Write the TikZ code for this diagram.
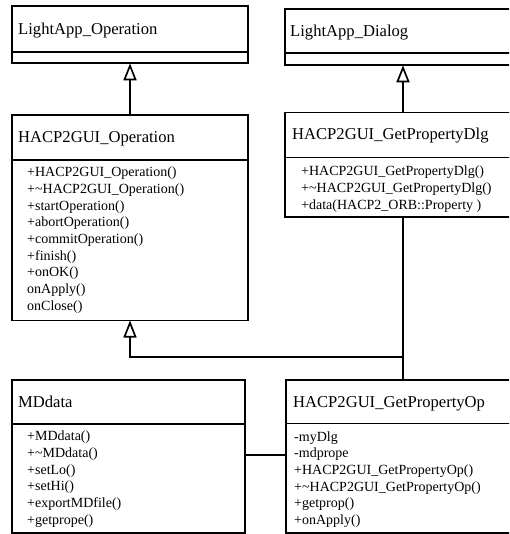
\documentclass[tikz,border=0pt]{standalone}
\usepackage{fontspec}
\setmainfont{Liberation Serif}
\usetikzlibrary{arrows.meta}
\begin{document}
\begin{tikzpicture}[x=1pt,y=-1pt,
  cls/.style={draw, rectangle, line width=1.7pt, anchor=north west, inner sep=0pt, outer sep=0pt},
  ttl/.style={anchor=base west, inner sep=0pt, font=\fontsize{16.6}{20}\selectfont},
  meth/.style={anchor=base west, inner sep=0pt, font=\fontsize{14}{16.7}\selectfont},
  rel/.style={line width=1.7pt},
  inh/.style={rel, -{Triangle[open, length=17pt, width=13pt]}}]
\clip (0,0) rectangle (509,534);

% ---------- class boxes ----------
\node[cls, minimum width=236pt, minimum height=57.3pt] (lo) at (12,6) {};
\draw[rel] (12,51.7) -- (248,51.7);
\node[ttl] (loT) at (18,34.5) {LightApp\_Operation};

\node[cls, minimum width=240pt, minimum height=56.3pt] (ld) at (285,9) {};
\draw[rel] (285,52.7) -- (525,52.7);
\node[ttl] (ldT) at (290,36.5) {LightApp\_Dialog};

\node[cls, minimum width=236pt, minimum height=205.5pt] (op) at (12,115) {};
\draw[rel] (12,160) -- (248,160);
\node[ttl] (opT) at (18,142.5) {HACP2GUI\_Operation};
\foreach \t [count=\i] in {+HACP2GUI\_Operation(),
    +\textasciitilde HACP2GUI\_Operation(),
    +startOperation(), +abortOperation(), +commitOperation(),
    +finish(), +onOK(), onApply(), onClose()}
  \node[meth] (opM\i) at (27,176.7+16.7*\i-16.7) {\t};

\node[cls, minimum width=240pt, minimum height=104.8pt] (dlg) at (285,112.5) {};
\draw[rel] (285,157.5) -- (525,157.5);
\node[ttl] (dlgT) at (292,140) {HACP2GUI\_GetPropertyDlg};
\foreach \t [count=\i] in {+HACP2GUI\_GetPropertyDlg(),
    +\textasciitilde HACP2GUI\_GetPropertyDlg(),
    +data(HACP2\_ORB::Property )}
  \node[meth] (dlgM\i) at (301,175.7+16.7*\i-16.7) {\t};

\node[cls, minimum width=233pt, minimum height=153.3pt] (md) at (12,380) {};
\draw[rel] (12,424) -- (245,424);
\node[ttl] (mdT) at (18,407.5) {MDdata};
\foreach \t [count=\i] in {+MDdata(), +\textasciitilde MDdata(),
    +setLo(), +setHi(), +exportMDfile(), +getprope()}
  \node[meth] (mdM\i) at (27,440.7+16.7*\i-16.7) {\t};

\node[cls, minimum width=240pt, minimum height=153.3pt] (gp) at (286,380) {};
\draw[rel] (286,423.5) -- (526,423.5);
\node[ttl] (gpT) at (293,407.5) {HACP2GUI\_GetPropertyOp};
\foreach \t [count=\i] in {-myDlg, -mdprope,
    +HACP2GUI\_GetPropertyOp(), +\textasciitilde HACP2GUI\_GetPropertyOp(),
    +getprop(), +onApply()}
  \node[meth] (gpM\i) at (294,441+16.7*\i-16.7) {\t};

% ---------- relations ----------
\coordinate (xr) at (403,0);
\coordinate (yj) at (0,357);
\coordinate (ya) at (0,455);

% generalisations
\draw[inh] (op.north) -- (lo.south);
\draw[inh] (dlg.north -| xr) -- (ld.south -| xr);
\draw[inh] (gp.north -| xr) |- (op.south |- yj) -- (op.south);

% associations
\draw[rel] (dlg.south -| xr) -- (gp.north -| xr);
\draw[rel] (md.east |- ya) -- (gp.west |- ya);
\end{tikzpicture}
\end{document}
